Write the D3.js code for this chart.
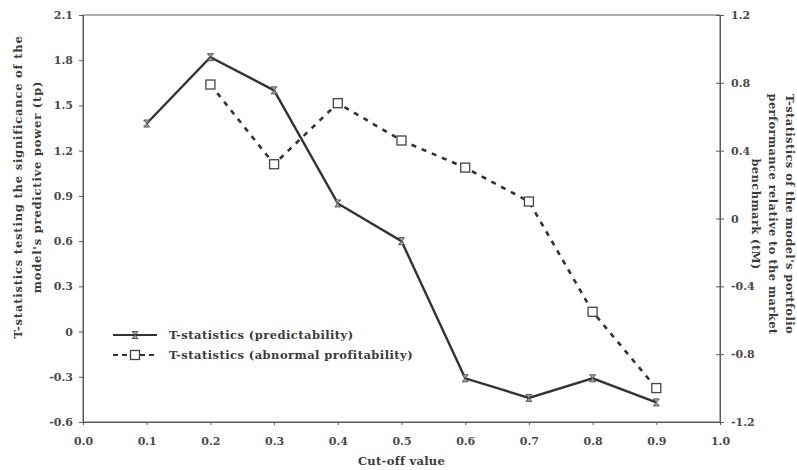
<!DOCTYPE html>
<html>
<head>
<meta charset="utf-8">
<script src="https://cdn.jsdelivr.net/npm/d3@7"></script>
<style>
  html, body { margin: 0; padding: 0; background: #fff; }
  svg { display: block; }
  text { font-family: "DejaVu Serif", serif; font-weight: bold; fill: #3a3a3a; }
</style>
</head>
<body>
<svg id="chart" width="797" height="470"></svg>
<script>
// ---- data ----
const cutoffs = [0.1, 0.2, 0.3, 0.4, 0.5, 0.6, 0.7, 0.8, 0.9];
const tpValues = [1.38, 1.82, 1.60, 0.85, 0.60, -0.31, -0.44, -0.31, -0.47];
const tmCutoffs = [0.2, 0.3, 0.4, 0.5, 0.6, 0.7, 0.8, 0.9];
const tmValues = [0.79, 0.32, 0.68, 0.46, 0.30, 0.10, -0.55, -1.00];
const xTicks = [0.0, 0.1, 0.2, 0.3, 0.4, 0.5, 0.6, 0.7, 0.8, 0.9, 1.0];
const xTickLabels = ["0.0", "0.1", "0.2", "0.3", "0.4", "0.5", "0.6", "0.7", "0.8", "0.9", "1.0"];
const leftTicks = [2.1, 1.8, 1.5, 1.2, 0.9, 0.6, 0.3, 0, -0.3, -0.6];
const leftTickLabels = ["2.1", "1.8", "1.5", "1.2", "0.9", "0.6", "0.3", "0", "-0.3", "-0.6"];
const rightTicks = [1.2, 0.8, 0.4, 0, -0.4, -0.8, -1.2];
const rightTickLabels = ["1.2", "0.8", "0.4", "0", "-0.4", "-0.8", "-1.2"];
const seriesNames = ["T-statistics (predictability)", "T-statistics (abnormal profitability)"];
const xTitle = "Cut-off value";
const leftTitle = ["T-statistics testing the significance of the", "model's predictive power (tp)"];
const rightTitle = ["T-statistics of the model's portfolio", "performance relative to the market", "benchmark (tM)"];

// ---- layout ----
const svg = d3.select("#chart");
const L = 83, R = 720, T = 15, B = 422;
const x = d3.scaleLinear().domain([0, 1]).range([L, R]);
const yL = d3.scaleLinear().domain([-0.6, 2.1]).range([B, T]);
const yR = d3.scaleLinear().domain([-1.2, 1.2]).range([B, T]);

const axisColor = "#5a5a5a";
const lineColor = "#333";

// plot box
svg.append("rect").attr("x", L).attr("y", T).attr("width", R - L).attr("height", B - T)
  .attr("fill", "none").attr("stroke", axisColor).attr("stroke-width", 1);

function styleAxis(g) {
  g.select(".domain").attr("stroke", axisColor);
  g.selectAll(".tick line").attr("stroke", axisColor);
  g.selectAll(".tick text").attr("font-family", null).attr("font-size", null)
    .style("font-size", "11px").style("fill", "#4a4a4a");
  g.attr("font-family", null).attr("font-size", null);
}

// x axis
const gx = svg.append("g").attr("transform", `translate(0,${B})`)
  .call(d3.axisBottom(x).tickValues(xTicks).tickFormat((d, i) => xTickLabels[i]).tickSize(3).tickPadding(12));
styleAxis(gx);

// left axis
const gl = svg.append("g").attr("transform", `translate(${L},0)`)
  .call(d3.axisLeft(yL).tickValues(leftTicks).tickFormat((d, i) => leftTickLabels[i]).tickSize(4).tickPadding(6));
styleAxis(gl);

// right axis
const gr = svg.append("g").attr("transform", `translate(${R},0)`)
  .call(d3.axisRight(yR).tickValues(rightTicks).tickFormat((d, i) => rightTickLabels[i]).tickSize(4).tickPadding(7));
gr.selectAll(".tick line").attr("x1", -4).attr("x2", 4);
styleAxis(gr);

// lines
const lineL = d3.line().x(d => x(d[0])).y(d => yL(d[1]));
const lineR = d3.line().x(d => x(d[0])).y(d => yR(d[1]));
const tpData = cutoffs.map((c, i) => [c, tpValues[i]]);
const tmData = tmCutoffs.map((c, i) => [c, tmValues[i]]);

svg.append("path").datum(tmData).attr("d", lineR)
  .attr("fill", "none").attr("stroke", lineColor).attr("stroke-width", 2.6)
  .attr("stroke-dasharray", "5,6");
svg.append("path").datum(tpData).attr("d", lineL)
  .attr("fill", "none").attr("stroke", lineColor).attr("stroke-width", 2.4);

const hourglass = "M-3,-3.5L3,-3.5L-3,3.5L3,3.5Z";
svg.selectAll(".tp").data(tpData).enter().append("path")
  .attr("transform", d => `translate(${x(d[0])},${yL(d[1])})`)
  .attr("d", hourglass).attr("fill", "#aaa").attr("stroke", "#555").attr("stroke-width", 1);

svg.selectAll(".tm").data(tmData).enter().append("rect")
  .attr("x", d => x(d[0]) - 4.5).attr("y", d => yR(d[1]) - 4.5)
  .attr("width", 9).attr("height", 9)
  .attr("fill", "#fff").attr("stroke", "#444").attr("stroke-width", 1.3);

// legend
const lg = svg.append("g");
lg.append("line").attr("x1", 113).attr("x2", 157).attr("y1", 335).attr("y2", 335)
  .attr("stroke", lineColor).attr("stroke-width", 2);
lg.append("path").attr("transform", "translate(135,335)").attr("d", hourglass)
  .attr("fill", "#aaa").attr("stroke", "#555").attr("stroke-width", 1);
lg.append("line").attr("x1", 113).attr("x2", 157).attr("y1", 355).attr("y2", 355)
  .attr("stroke", lineColor).attr("stroke-width", 2).attr("stroke-dasharray", "5,4");
lg.append("rect").attr("x", 130.5).attr("y", 350.5).attr("width", 9).attr("height", 9)
  .attr("fill", "#fff").attr("stroke", "#444").attr("stroke-width", 1.3);
lg.append("text").attr("x", 169).attr("y", 339).style("font-size", "11.5px")
  .style("letter-spacing", "0.45px").text(seriesNames[0]);
lg.append("text").attr("x", 169).attr("y", 359).style("font-size", "11.5px")
  .style("letter-spacing", "0.45px").text(seriesNames[1]);

// titles
svg.append("text").attr("x", (L + R) / 2).attr("y", 465).attr("text-anchor", "middle")
  .style("font-size", "11.5px").style("letter-spacing", "0.3px").text(xTitle);

const lt = svg.append("text").attr("transform", "translate(22,187) rotate(-90)")
  .attr("text-anchor", "middle").style("font-size", "11.5px").style("letter-spacing", "0.8px");
leftTitle.forEach((s, i) => lt.append("tspan").attr("x", 0).attr("y", i * 19).text(s));

const rt = svg.append("text").attr("transform", "translate(786,214) rotate(90)")
  .attr("text-anchor", "middle").style("font-size", "11.5px").style("letter-spacing", "0.4px");
rightTitle.forEach((s, i) => rt.append("tspan").attr("x", 0).attr("y", i * 17).text(s));
</script>
</body>
</html>
